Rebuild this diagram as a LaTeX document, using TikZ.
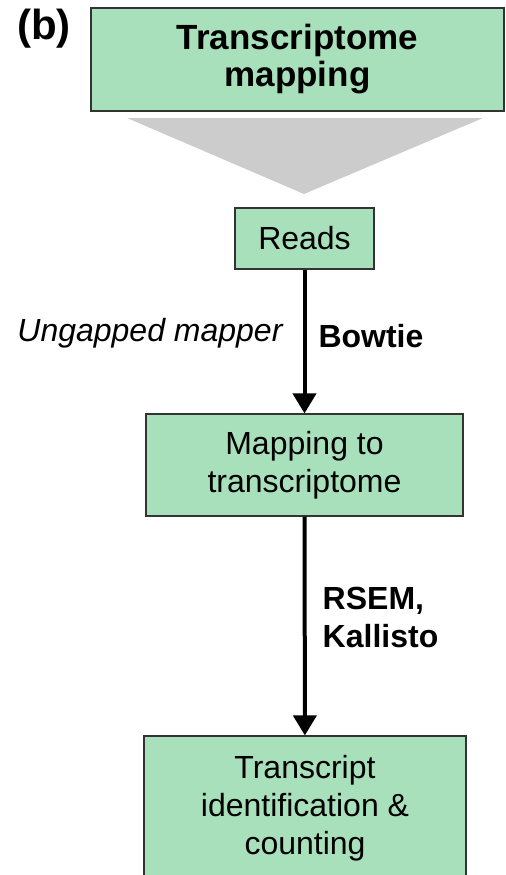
\documentclass[tikz,border=0pt]{standalone}
\usepackage{fontspec}
\setmainfont{Liberation Sans}
\usetikzlibrary{arrows.meta}

\definecolor{boxgreen}{RGB}{168,224,188}
\definecolor{wedgegray}{RGB}{204,204,204}

\tikzset{
    stepbox/.style={draw=black!80, line width=0.6pt, fill=boxgreen, align=center,
        inner sep=0pt, font=\fontsize{16}{19}\selectfont},
    flow/.style={-{Triangle[width=11.5pt,length=10pt]}, line width=2pt},
    tool/.style={inner sep=0pt, align=left, font=\fontsize{16}{19}\selectfont\bfseries},
    kind/.style={inner sep=0pt, font=\fontsize{16}{19}\selectfont\itshape},
}

\begin{document}
\begin{tikzpicture}[x=0.5pt,y=-0.5pt]
    \useasboundingbox (0,0) rectangle (505,875);

    \node[font=\fontsize{21}{24}\selectfont\bfseries] (B) at (44,29) {(b)};
    \node[stepbox, minimum width=206.5pt, minimum height=51.5pt,
        font=\fontsize{17.5}{18.5}\selectfont\bfseries] (T) at (297.5,59.5) {Transcriptome\\mapping};

    \coordinate (WL) at (127,118);
    \coordinate (WR) at (483,118);
    \coordinate (WA) at (304,194);
    \fill[wedgegray] (WL) -- (WR) -- (WA) -- cycle;

    \node[stepbox, minimum width=69.5pt, minimum height=30.5pt] (R) at (304.5,238.5) {Reads};
    \node[stepbox, minimum width=158.5pt, minimum height=51pt] (M) at (304.5,465) {Mapping to\\transcriptome};
    \node[stepbox, minimum width=161pt, minimum height=72pt] (C) at (305,808) {Transcript\\identification \&\\counting};

    \draw[flow] (R) -- node[kind, pos=0.44, left=10pt] {Ungapped mapper}
        node[tool, pos=0.46, right=6pt] {Bowtie} (M);
    \draw[flow] (M) -- node[tool, pos=0.46, right=8pt] {RSEM,\\Kallisto} (C);

\end{tikzpicture}
\end{document}
